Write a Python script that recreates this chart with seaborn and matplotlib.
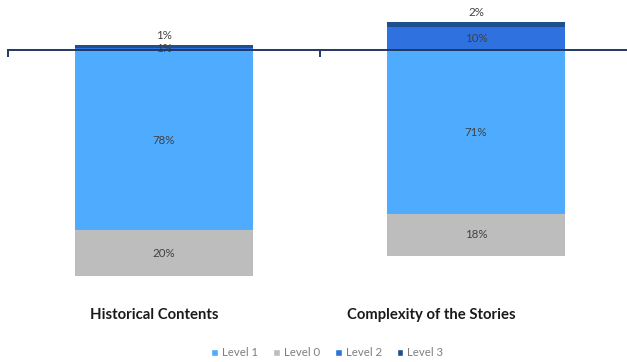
import matplotlib
matplotlib.use("Agg")
import matplotlib.pyplot as plt
import seaborn as sns
import pandas as pd
from matplotlib.patches import Patch

categories = ["Historical Contents", "Complexity of the Stories"]
level0 = [20, 18]
level1 = [78, 71]
level2 = [1, 10]
level3 = [1, 2]

sns.set_style("white")
plt.rcParams['font.family'] = ['Lato', 'DejaVu Sans']

colors = {"Level 1": "#4FABFD", "Level 0": "#BDBDBD", "Level 2": "#2F72DF", "Level 3": "#1E4F8E"}
label_color = "#404040"

fig = plt.figure(figsize=(6.27, 3.62), dpi=100)
ax = fig.add_axes([8/627, 1 - 290/362, 624/627, 282/362])

df = pd.DataFrame({"cat": categories, "l0": level0, "l1": level1, "l2": level2, "l3": level3})
w = 0.57
bar_kw = dict(width=w, errorbar=None, saturation=1, linewidth=0, ax=ax)

neg1 = [-v for v in level1]
neg0 = [-v for v in level0]
sns.barplot(x=df["cat"], y=neg1, color=colors["Level 1"], **bar_kw)
c1 = ax.containers[-1]
sns.barplot(x=df["cat"], y=neg0, bottom=neg1, color=colors["Level 0"], **bar_kw)
c0 = ax.containers[-1]
sns.barplot(x=df["cat"], y=level2, color=colors["Level 2"], **bar_kw)
c2 = ax.containers[-1]
sns.barplot(x=df["cat"], y=level3, bottom=level2, color=colors["Level 3"], **bar_kw)
c3 = ax.containers[-1]

fs = 8.3
ax.bar_label(c1, labels=[f"{v}%" for v in level1], label_type="center", fontsize=fs, color=label_color)
ax.bar_label(c0, labels=[f"{v}%" for v in level0], label_type="center", fontsize=fs, color=label_color)
ax.bar_label(c2, labels=[f"{v}%" for v in level2], label_type="center", fontsize=fs, color=label_color)
ax.bar_label(c3, labels=[f"{v}%" for v in level3], label_type="edge", padding=3, fontsize=fs, color=label_color)

ax.set_xlim(-0.5, 1.5)
ax.set_ylim(-103.9, 18.2)
ax.set_xlabel("")
ax.set_ylabel("")
ax.set_yticks([])
for s in ["top", "left", "right"]:
    ax.spines[s].set_visible(False)
ax.spines["bottom"].set_position(("data", 0))
ax.spines["bottom"].set_color("#1F3864")
ax.spines["bottom"].set_linewidth(1.4)
ax.spines["bottom"].set_zorder(5)

# category labels sit low, slightly left of the bars as in the reference
ax.set_xticks([-0.032, 0.857])
ax.set_xticklabels(categories, fontsize=10.7, fontweight="bold", color="#1a1a1a")
ax.set_xticks([-0.5, 0.5, 1.5], minor=True)
ax.tick_params(axis="x", which="both", bottom=True)
ax.tick_params(axis="x", which="major", length=0, pad=185.5)
ax.tick_params(axis="x", which="minor", length=5, width=1.4, color="#1F3864", direction="out")

handles = [Patch(facecolor=colors[k], label=k) for k in ["Level 1", "Level 0", "Level 2", "Level 3"]]
fig.legend(handles=handles, loc="center", bbox_to_anchor=(0.522, 1 - 353/362), ncol=4,
           frameon=False, fontsize=8.2, labelcolor="#7f7f7f", handlelength=0.6, handleheight=0.6,
           handletextpad=0.35, columnspacing=1.3)

fig.savefig("out.png", dpi=100)
